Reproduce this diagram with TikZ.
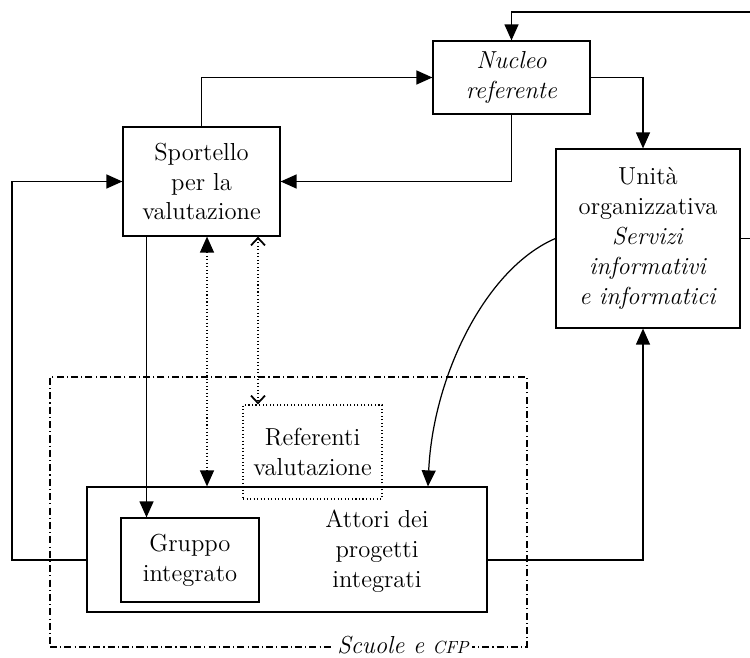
\documentclass[tikz,border=0pt]{standalone}
\usetikzlibrary{arrows.meta}
\newcommand{\boxfont}{\fontsize{14}{17}\selectfont}
\begin{document}
\begin{tikzpicture}[x=0.02cm,y=-0.02cm, line width=0.7pt,
  every node/.style={font=\boxfont, align=center},
  box/.style={draw, inner sep=0pt},
  arr/.style={-{Triangle[length=3.2mm,width=2.8mm]}},
  dotline/.style={dash pattern=on 0.6pt off 1.4pt}]
\useasboundingbox (0,0) rectangle (750,658);
\node[box, minimum width=9.54cm, minimum height=5.4cm, dash pattern=on 4pt off 1.8pt on 0.6pt off 1.8pt] (scuole) at (288.5,512) {};
\node[fill=white, inner sep=2pt, font=\boxfont\itshape] (scuolelbl) at (403,645) {Scuole e {\fontsize{10}{12}\selectfont CFP}};
\node[box, minimum width=3.14cm, minimum height=2.18cm] (sportello) at (201.5,181.5) {Sportello\\per la\\valutazione};
\node[box, minimum width=3.14cm, minimum height=1.46cm, font=\boxfont\itshape] (nucleo) at (511.5,77.5) {Nucleo\\referente};
\node[box, minimum width=3.68cm, minimum height=3.58cm] (unita) at (648,238.5) {Unità\\organizzativa\\\textit{Servizi}\\\textit{informativi}\\\textit{e informatici}};
\node[box, minimum width=8cm, minimum height=2.5cm] (attori) at (287,549.5) {};
\node (attoritxt) at (377,551) {Attori dei\\progetti\\integrati};
\node[box, minimum width=2.76cm, minimum height=1.68cm] (gruppo) at (190,560) {Gruppo\\integrato};
\node[box, dotline, minimum width=2.78cm, minimum height=1.88cm] (referenti) at (312.5,452) {Referenti\\valutazione};
\coordinate (topedge) at (750,12);
\coordinate (rightedge) at (750,242);
\coordinate (leftrail) at (12,0);
\draw[arr] (topedge) -| (nucleo);
\draw (unita.east) -- (unita.east -| rightedge);
\draw[arr] (nucleo.east) -| ([xshift=-0.1cm]unita.north);
\draw[arr] (sportello.north) |- (nucleo);
\draw[arr] (nucleo.south) |- (sportello);
\draw[arr] (attori.west |- gruppo) -| (leftrail |- sportello) -- (sportello);
\draw[arr] (attori.east |- gruppo) -| ([xshift=-0.1cm]unita.south);
\draw[arr] ([xshift=-1.1cm]sportello.south) -- ([xshift=-1.1cm]sportello.south |- gruppo.north);
\draw[dotline, {Triangle[length=3.2mm,width=2.8mm]}-{Triangle[length=3.2mm,width=2.8mm]}] ([xshift=0.11cm]sportello.south) -- ([xshift=0.11cm]sportello.south |- attori.north);
\draw[dotline, {Straight Barb[length=1.5mm,width=2.8mm,line width=1pt]}-{Straight Barb[length=1.5mm,width=2.8mm,line width=1pt]}] ([xshift=1.13cm]sportello.south) -- ([xshift=1.13cm]sportello.south |- referenti.north);
\draw[arr] (unita.west) .. controls +(-70,30) and +(5,-110) .. ([xshift=2.82cm]attori.north);
\end{tikzpicture}
\end{document}
